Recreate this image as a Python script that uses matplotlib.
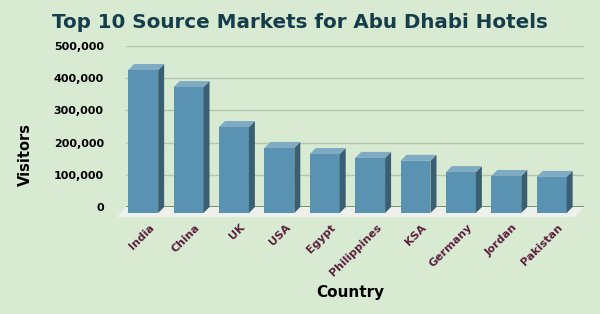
import matplotlib
matplotlib.use("Agg")
import matplotlib.pyplot as plt
from matplotlib.patches import Polygon
from matplotlib.ticker import FuncFormatter

countries = ["India", "China", "UK", "USA", "Egypt", "Philippines", "KSA",
             "Germany", "Jordan", "Pakistan"]
visitors = [444000, 391000, 267000, 202000, 183000, 171000, 162000,
            127000, 115000, 112000]

bg = "#d9ead3"
front_c = "#5a92b1"
side_c = "#3b5f72"
top_c = "#7eaac2"

W, H, DPI = 600, 314, 100
fig = plt.figure(figsize=(W / DPI, H / DPI), dpi=DPI, facecolor=bg)
ax_l, ax_r, ax_b, ax_t = 126, 584, 207, 46
ax = fig.add_axes([ax_l / W, 1 - ax_b / H, (ax_r - ax_l) / W, (ax_b - ax_t) / H])
ax.set_facecolor(bg)

x0, x1 = -0.51, 9.58
ax.set_xlim(x0, x1)
ax.set_ylim(0, 500000)

# pixel -> data conversion for the 3d depth
px_x = (x1 - x0) / (ax_r - ax_l)
px_y = 500000 / (ax_b - ax_t)
dx, dy = 6 * px_x, 6 * px_y
w = 0.66

ax.set_yticks(range(0, 500001, 100000))
ax.yaxis.set_major_formatter(FuncFormatter(lambda v, p: f"{int(v):,}"))
ax.grid(axis="y", color="#b3c6ab", linewidth=1)
ax.axhline(0, color="#6f7d6b", linewidth=1.2, zorder=1)
ax.set_axisbelow(True)
for s in ax.spines.values():
    s.set_visible(False)
ax.tick_params(axis="y", length=0, pad=16)
ax.tick_params(axis="x", length=0, pad=11)
for lab in ax.get_yticklabels():
    lab.set_fontweight("bold")
    lab.set_fontsize(8)

# floor
fdx, fdy = 9 * px_x, 10 * px_y
floor = Polygon([(x0, 0), (x1, 0), (x1 - fdx, -fdy), (x0 - fdx, -fdy)],
                closed=True, facecolor="#eef0ec", edgecolor="none",
                clip_on=False, zorder=2)
ax.add_patch(floor)

for i, v in enumerate(visitors):
    l, r = i - w / 2, i + w / 2
    fl, fr = l - dx, r - dx
    front = Polygon([(fl, -dy), (fr, -dy), (fr, v - dy), (fl, v - dy)],
                    facecolor=front_c, edgecolor="none", clip_on=False, zorder=3)
    side = Polygon([(fr, -dy), (r, 0), (r, v), (fr, v - dy)],
                   facecolor=side_c, edgecolor="none", clip_on=False, zorder=3)
    top = Polygon([(fl, v - dy), (fr, v - dy), (r, v), (l, v)],
                  facecolor=top_c, edgecolor="none", clip_on=False, zorder=3)
    for p in (front, side, top):
        ax.add_patch(p)

ax.set_xticks(range(len(countries)))
ax.set_xticklabels(countries, rotation=45, ha="right", rotation_mode="anchor",
                   fontsize=8, fontweight="bold", color="#5b1f3d")

fig.text(0.5, 1 - 22 / H, "Top 10 Source Markets for Abu Dhabi Hotels",
         ha="center", va="center", fontsize=14.3, fontweight="bold",
         color="#163d4a")
fig.text(25 / W, 1 - 154 / H, "Visitors", rotation=90, ha="center",
         va="center", fontsize=10.5, fontweight="bold")
fig.text(350 / W, 1 - 293 / H, "Country", ha="center", va="center",
         fontsize=11, fontweight="bold")

fig.savefig("out.png", dpi=DPI, facecolor=bg)
